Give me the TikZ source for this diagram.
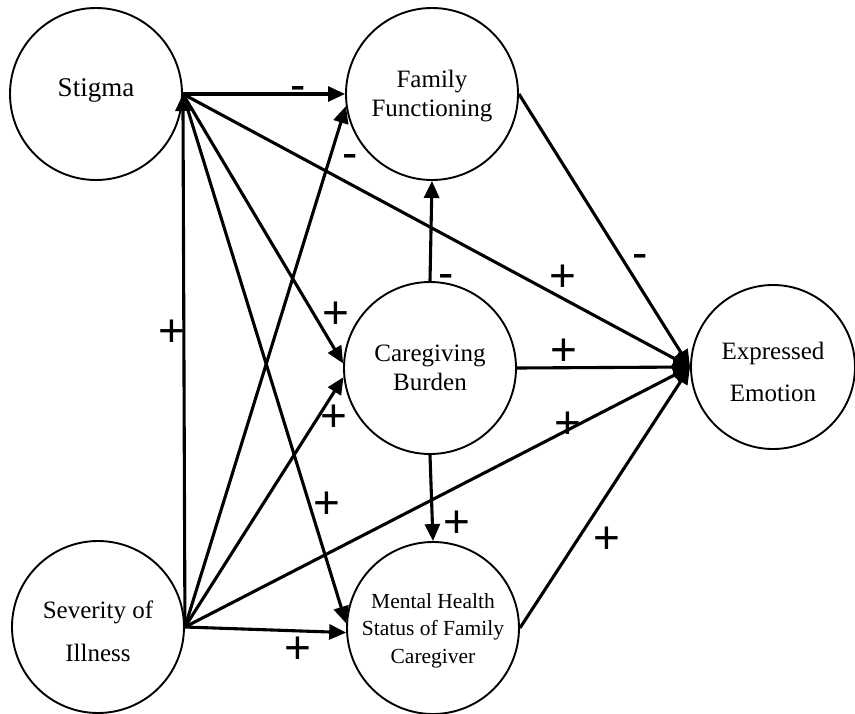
\documentclass[tikz,border=0pt]{standalone}
\usepackage{fontspec}
\setmainfont{Liberation Serif}
\newfontfamily\signfont{Liberation Sans}
\usetikzlibrary{arrows.meta}
\begin{document}
\begin{tikzpicture}[x=1pt,y=-1pt,
  construct/.style={circle,draw,line width=1.9pt,minimum size=172pt,inner sep=0pt,
    align=center,font=\fontsize{25}{29}\selectfont},
  link/.style={line width=3.1pt,-{Triangle[length=17pt,width=15pt]}},
  sign/.style={inner sep=0pt,font=\signfont\fontsize{46}{46}\selectfont},
  minus/.style={sign,yshift=-7pt}
]
\useasboundingbox (0,0) rectangle (855,713);

% constructs
\node[construct,font=\fontsize{27}{30}\selectfont] (stig) at (96,94)
  {\raisebox{4pt}[\height][\depth]{Stigma}};
\node[construct] (ff) at (432,94) {\rule{0pt}{21pt}Family\\Functioning};
\node[construct] (cb) at (430,368) {Caregiving\\Burden};
\node[construct,minimum size=164pt,font=\fontsize{25}{42}\selectfont] (ee) at (773,367)
  {\rule{0pt}{27pt}Expressed\\Emotion};
\node[construct,font=\fontsize{25}{43}\selectfont] (sev) at (98,627)
  {\rule{0pt}{26pt}Severity of\\Illness};
\node[construct,font=\fontsize{21.5}{27.5}\selectfont] (mh) at (433,628)
  {\rule{0pt}{20pt}Mental Health\\Status of Family\\Caregiver};

% paths
\draw[link] (stig.east) -- (ff.west);
\draw[link] (stig.east) -- (cb.177);
\draw[link] (stig.east) -- (mh.177);
\draw[link] (stig.east) -- (ee.west);
\draw[link] (sev.east) -- (stig.east);
\draw[link] (sev.east) -- (ff.188);
\draw[link] (sev.east) -- (cb.186);
\draw[link] (sev.east) -- (ee.west);
\draw[link] (sev.east) -- (mh.183);
\draw[link] (cb.north) -- (ff.south);
\draw[link] (cb.east) -- (ee.west);
\draw[link] (cb.south) -- (mh.north);
\draw[link] (ff.east) -- (ee.west);
\draw[link] (mh.east) -- (ee.west);

% signs of the effects
\node[minus] (s1) at (298,86) {-};
\node[minus] (s2) at (350,154) {-};
\node[minus] (s3) at (446,274) {-};
\node[minus] (s4) at (640,254) {-};
\node[sign] (p1) at (563,278) {+};
\node[sign] (p2) at (336,315) {+};
\node[sign] (p3) at (564,352) {+};
\node[sign] (p4) at (334,418) {+};
\node[sign] (p5) at (568,425) {+};
\node[sign] (p6) at (327,505) {+};
\node[sign] (p7) at (457,524) {+};
\node[sign] (p8) at (607,540) {+};
\node[sign] (p9) at (298,650) {+};
\node[sign] (p10) at (172,333) {+};
\end{tikzpicture}
\end{document}
